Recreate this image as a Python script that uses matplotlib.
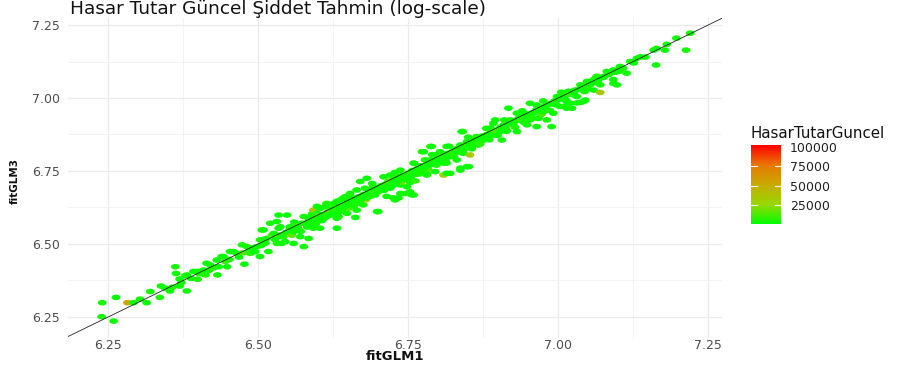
import matplotlib
matplotlib.use("Agg")
import matplotlib.pyplot as plt
import numpy as np
from matplotlib.path import Path
from matplotlib.colors import LinearSegmentedColormap, Normalize
from matplotlib.cm import ScalarMappable
from matplotlib.ticker import MultipleLocator

plt.rcParams['font.family'] = ['DejaVu Sans']

# (fitGLM1, fitGLM3, HasarTutarGuncel) rows, low end of the range
rows_low = [
    (6.240, 6.299, 3200), (6.263, 6.317, 2100), (6.239, 6.251, 4500), (6.259, 6.236, 1800),
    (6.282, 6.299, 52000), (6.292, 6.299, 2600), (6.303, 6.311, 3900), (6.314, 6.299, 1500),
    (6.320, 6.337, 2800), (6.336, 6.317, 5200), (6.338, 6.356, 2300), (6.345, 6.348, 3300),
    (6.353, 6.339, 1900), (6.357, 6.352, 6100), (6.369, 6.356, 2700), (6.372, 6.368, 4100),
    (6.381, 6.339, 2200), (6.362, 6.422, 3600), (6.363, 6.399, 1700), (6.369, 6.380, 2900),
    (6.378, 6.391, 8400), (6.381, 6.394, 2400), (6.388, 6.382, 3100), (6.392, 6.406, 1600),
    (6.399, 6.379, 4800), (6.398, 6.406, 2500), (6.402, 6.398, 3400), (6.409, 6.411, 2000),
    (6.412, 6.394, 5600), (6.414, 6.434, 2300), (6.418, 6.410, 3800), (6.420, 6.428, 1900),
    (6.425, 6.418, 7200), (6.431, 6.445, 2600), (6.432, 6.394, 3000), (6.434, 6.422, 1800),
    (6.439, 6.457, 4400), (6.442, 6.457, 2100), (6.445, 6.440, 9800), (6.448, 6.422, 2700),
    (6.452, 6.447, 3500), (6.453, 6.474, 1500), (6.459, 6.474, 2800), (6.464, 6.468, 4200),
    (6.468, 6.455, 2400), (6.473, 6.497, 3100), (6.475, 6.470, 12500), (6.477, 6.431, 2000),
    (6.481, 6.491, 3700), (6.486, 6.480, 2200), (6.487, 6.468, 5400), (6.492, 6.487, 2900),
    (6.495, 6.474, 1700), (6.498, 6.491, 3300), (6.503, 6.457, 2500), (6.503, 6.514, 4600),
    (6.505, 6.495, 2100), (6.506, 6.548, 3800), (6.509, 6.514, 6800), (6.509, 6.548, 2400),
    (6.512, 6.503, 3000), (6.514, 6.519, 1900), (6.517, 6.474, 2600), (6.520, 6.571, 4100),
    (6.523, 6.531, 15000), (6.526, 6.536, 2300), (6.528, 6.515, 3500), (6.531, 6.577, 2000),
    (6.531, 6.502, 4700), (6.534, 6.554, 2800), (6.534, 6.599, 1600), (6.536, 6.530, 7600),
    (6.537, 6.559, 2500), (6.539, 6.525, 3200), (6.539, 6.502, 2100), (6.542, 6.525, 5100),
    (6.545, 6.508, 2700), (6.547, 6.540, 3900), (6.548, 6.599, 2200),
]

# middle of the range
rows_mid = [
    (6.552, 6.548, 3400), (6.553, 6.559, 2600), (6.556, 6.530, 18000), (6.559, 6.502, 2300),
    (6.560, 6.552, 4100), (6.560, 6.575, 1900), (6.564, 6.548, 3000), (6.566, 6.560, 5800),
    (6.570, 6.525, 2400), (6.571, 6.543, 3600), (6.573, 6.571, 2100), (6.576, 6.594, 4400),
    (6.576, 6.491, 2700), (6.578, 6.570, 9200), (6.581, 6.571, 2200), (6.584, 6.519, 3300),
    (6.585, 6.582, 1800), (6.587, 6.594, 2900), (6.587, 6.565, 4900), (6.589, 6.562, 2500),
    (6.590, 6.604, 3700), (6.592, 6.616, 40000), (6.592, 6.554, 2000), (6.594, 6.585, 6400),
    (6.598, 6.605, 2800), (6.598, 6.577, 3500), (6.598, 6.629, 2300), (6.600, 6.596, 11000),
    (6.603, 6.622, 2600), (6.603, 6.554, 3100), (6.606, 6.580, 1900), (6.608, 6.601, 4300),
    (6.612, 6.628, 2400), (6.614, 6.594, 3800), (6.614, 6.634, 2100), (6.614, 6.639, 5300),
    (6.617, 6.611, 2700), (6.619, 6.598, 3200), (6.620, 6.616, 24000), (6.622, 6.619, 2500),
    (6.626, 6.611, 3900), (6.626, 6.639, 2200), (6.630, 6.622, 6700), (6.631, 6.588, 2900),
    (6.631, 6.554, 1800), (6.631, 6.646, 3400), (6.633, 6.607, 2300), (6.634, 6.594, 4500),
    (6.637, 6.616, 2000), (6.637, 6.651, 3000), (6.640, 6.633, 8100), (6.642, 6.622, 2600),
    (6.642, 6.658, 3700), (6.645, 6.641, 2100), (6.645, 6.662, 4800), (6.648, 6.605, 2400),
    (6.648, 6.658, 3300), (6.650, 6.622, 13500), (6.653, 6.673, 2700), (6.653, 6.663, 3600),
    (6.655, 6.648, 2200), (6.659, 6.629, 5000), (6.660, 6.657, 2900), (6.662, 6.591, 1700),
    (6.664, 6.616, 3100), (6.664, 6.685, 2500), (6.666, 6.640, 7300), (6.668, 6.662, 2300),
    (6.670, 6.714, 3800), (6.670, 6.646, 2000), (6.675, 6.634, 4200), (6.676, 6.670, 2600),
    (6.678, 6.691, 3400), (6.680, 6.652, 30000), (6.681, 6.725, 2100), (6.681, 6.658, 3900),
    (6.685, 6.680, 2800), (6.690, 6.683, 5500), (6.690, 6.707, 2400), (6.692, 6.696, 3200),
    (6.695, 6.668, 1900), (6.697, 6.693, 4600), (6.698, 6.611, 2700), (6.700, 6.679, 3500),
    (6.700, 6.611, 2200), (6.705, 6.700, 9600), (6.709, 6.730, 2500), (6.709, 6.696, 3700),
    (6.710, 6.684, 2000), (6.712, 6.705, 4400), (6.714, 6.663, 2900), (6.717, 6.714, 3100),
    (6.718, 6.716, 16500), (6.720, 6.736, 2300), (6.720, 6.691, 3800), (6.724, 6.700, 2600),
    (6.725, 6.658, 4100), (6.726, 6.719, 2100), (6.728, 6.651, 3300), (6.728, 6.745, 2700),
    (6.731, 6.730, 5900), (6.731, 6.707, 2400), (6.734, 6.728, 3600), (6.734, 6.658, 2000),
    (6.737, 6.753, 4300), (6.737, 6.702, 2800), (6.737, 6.673, 3200), (6.739, 6.713, 21000),
    (6.741, 6.736, 2500), (6.745, 6.673, 3900), (6.748, 6.696, 2200), (6.750, 6.742, 6200),
    (6.753, 6.711, 2600), (6.753, 6.679, 3400), (6.754, 6.728, 2100), (6.756, 6.668, 4700),
    (6.757, 6.752, 2900), (6.759, 6.777, 3100), (6.759, 6.668, 2400), (6.760, 6.776, 3700),
    (6.762, 6.716, 8800), (6.765, 6.758, 2300), (6.767, 6.748, 3500), (6.768, 6.740, 2700),
    (6.770, 6.748, 4000), (6.772, 6.768, 2000), (6.773, 6.816, 3300), (6.776, 6.816, 2600),
    (6.778, 6.788, 4500), (6.780, 6.772, 2200), (6.781, 6.736, 3800), (6.781, 6.742, 2500),
    (6.783, 6.757, 12000), (6.786, 6.781, 2800), (6.787, 6.834, 3200), (6.787, 6.788, 2100),
    (6.789, 6.834, 4100), (6.790, 6.806, 2400), (6.794, 6.787, 3600), (6.795, 6.748, 2900),
    (6.795, 6.805, 2300), (6.797, 6.770, 5200), (6.800, 6.796, 2700), (6.803, 6.816, 3400),
    (6.803, 6.788, 2000), (6.807, 6.800, 6900), (6.809, 6.736, 28000), (6.809, 6.777, 2600),
    (6.812, 6.785, 3900), (6.814, 6.834, 2200), (6.814, 6.777, 3000), (6.814, 6.742, 2500),
    (6.815, 6.810, 4400), (6.818, 6.835, 2100), (6.820, 6.805, 3500), (6.820, 6.742, 2800),
    (6.822, 6.815, 10500), (6.826, 6.799, 2400), (6.826, 6.811, 3300), (6.828, 6.822, 2000),
    (6.830, 6.826, 4700), (6.831, 6.788, 2600), (6.836, 6.829, 3100), (6.837, 6.753, 2300),
    (6.837, 6.760, 3800), (6.837, 6.839, 2900), (6.839, 6.885, 2200), (6.841, 6.812, 5600),
    (6.841, 6.885, 3400), (6.842, 6.811, 2500), (6.845, 6.840, 3700), (6.848, 6.765, 2100),
    (6.848, 6.851, 4200),
]

# dense band just under the diagonal
rows_core = [
    (6.558, 6.541, 2600), (6.567, 6.551, 3100), (6.582, 6.558, 2200), (6.596, 6.569, 4000),
    (6.604, 6.590, 2500), (6.611, 6.589, 3300), (6.624, 6.603, 2100), (6.628, 6.630, 2800),
    (6.639, 6.612, 3600), (6.647, 6.630, 2300), (6.657, 6.637, 4100), (6.663, 6.650, 2700),
    (6.672, 6.655, 3200), (6.683, 6.668, 2400), (6.688, 6.664, 5100), (6.699, 6.688, 2600),
    (6.707, 6.690, 3400), (6.715, 6.695, 2200), (6.722, 6.708, 3900), (6.733, 6.715, 2500),
    (6.743, 6.722, 3000), (6.751, 6.730, 2300), (6.763, 6.739, 4400), (6.771, 6.756, 2700),
    (6.777, 6.760, 3300), (6.785, 6.770, 2100), (6.793, 6.775, 3800), (6.802, 6.781, 2600),
    (6.810, 6.795, 3100), (6.817, 6.798, 2400), (6.825, 6.807, 4600), (6.834, 6.815, 2200),
    (6.843, 6.825, 3500), (6.858, 6.840, 2800), (6.872, 6.855, 3200), (6.884, 6.866, 2500),
    (6.898, 6.882, 3700), (6.912, 6.895, 2300), (6.925, 6.908, 4200), (6.939, 6.922, 2700),
    (6.952, 6.937, 3000), (6.966, 6.950, 2400), (6.980, 6.962, 3600), (6.996, 6.977, 2200),
    (7.012, 6.995, 3300), (7.027, 7.010, 2600), (7.044, 7.022, 3900),
]

# high end of the range
rows_high = [
    (6.850, 6.866, 2700), (6.851, 6.765, 3300), (6.852, 6.845, 2400), (6.853, 6.805, 35000),
    (6.856, 6.834, 2900), (6.856, 6.826, 3600), (6.860, 6.856, 2200), (6.864, 6.868, 4600),
    (6.866, 6.859, 2500), (6.867, 6.839, 3100), (6.870, 6.842, 7800), (6.874, 6.870, 2300),
    (6.876, 6.856, 3500), (6.880, 6.896, 2600), (6.881, 6.873, 4000), (6.882, 6.876, 2100),
    (6.885, 6.857, 3300), (6.887, 6.897, 2800), (6.889, 6.885, 5100), (6.892, 6.913, 2400),
    (6.892, 6.873, 3700), (6.895, 6.925, 2000), (6.896, 6.889, 14000), (6.899, 6.872, 2700),
    (6.903, 6.885, 3200), (6.904, 6.900, 2500), (6.906, 6.856, 4300), (6.909, 6.908, 2200),
    (6.910, 6.925, 3600), (6.911, 6.904, 2900), (6.914, 6.891, 6300), (6.914, 6.886, 2300),
    (6.917, 6.965, 3400), (6.919, 6.915, 2600), (6.920, 6.925, 3900), (6.926, 6.918, 2100),
    (6.928, 6.900, 4500), (6.931, 6.948, 2800), (6.931, 6.885, 3000), (6.934, 6.930, 2400),
    (6.937, 6.925, 9100), (6.940, 6.956, 2600), (6.941, 6.935, 3500), (6.942, 6.948, 2200),
    (6.943, 6.916, 4000), (6.948, 6.908, 2900), (6.949, 6.945, 3300), (6.953, 6.982, 2500),
    (6.953, 6.925, 3800), (6.956, 6.949, 2100), (6.957, 6.930, 5400), (6.959, 6.948, 2700),
    (6.964, 6.976, 3100), (6.964, 6.902, 2300), (6.964, 6.961, 4200), (6.967, 6.930, 2600),
    (6.971, 6.964, 3600), (6.972, 6.944, 11500), (6.975, 6.990, 2400), (6.976, 6.954, 3200),
    (6.979, 6.975, 2000), (6.981, 6.925, 3900), (6.986, 6.979, 2800), (6.986, 6.958, 4600),
    (6.989, 6.982, 2500), (6.989, 6.902, 3300), (6.992, 6.948, 2100), (6.994, 6.990, 6000),
    (6.998, 7.005, 2700), (7.001, 6.994, 3400), (7.003, 6.971, 2300), (7.005, 7.020, 3800),
    (7.006, 7.005, 2600), (7.009, 6.971, 4100), (7.010, 7.004, 2200), (7.014, 7.016, 3000),
    (7.014, 6.988, 2500), (7.014, 6.965, 3700), (7.017, 7.023, 2900), (7.018, 7.012, 8500),
    (7.020, 6.982, 2400), (7.023, 6.965, 3300), (7.026, 7.020, 2100), (7.028, 7.027, 4400),
    (7.031, 7.005, 2700), (7.031, 6.983, 3600), (7.034, 7.029, 2300), (7.037, 7.045, 3100),
    (7.037, 6.985, 2600), (7.041, 7.037, 4900), (7.042, 6.988, 2200), (7.045, 7.027, 3500),
    (7.045, 6.993, 2800), (7.048, 7.057, 2400), (7.048, 7.033, 3900), (7.050, 7.044, 2000),
    (7.053, 7.045, 4300), (7.058, 7.052, 2500), (7.059, 7.063, 3200), (7.059, 7.027, 2700),
    (7.064, 7.074, 3700), (7.066, 7.060, 2100), (7.070, 7.045, 2900), (7.070, 7.019, 33000),
    (7.075, 7.070, 3400), (7.076, 7.074, 2300), (7.081, 7.091, 2600), (7.084, 7.080, 4000),
    (7.092, 7.096, 2200), (7.092, 7.063, 3100), (7.092, 7.050, 2700), (7.095, 7.088, 3600),
    (7.098, 7.045, 2400), (7.101, 7.091, 3800), (7.103, 7.108, 2100), (7.108, 7.102, 4500),
    (7.114, 7.085, 2800), (7.120, 7.125, 3300), (7.126, 7.120, 2500), (7.131, 7.136, 3900),
    (7.137, 7.141, 2200), (7.145, 7.140, 2900), (7.159, 7.164, 3400), (7.163, 7.113, 2600),
    (7.164, 7.170, 3700), (7.178, 7.164, 2300), (7.181, 7.184, 3000), (7.197, 7.205, 2700),
    (7.213, 7.164, 3500), (7.220, 7.222, 2400),
]

axis_breaks = [6.25, 6.50, 6.75, 7.00, 7.25]
axis_labels = ["6.25", "6.50", "6.75", "7.00", "7.25"]
legend_breaks = [25000, 50000, 75000, 100000]
legend_labels = ["25000", "50000", "75000", "100000"]
colour_limits = (640, 102000)

rows = np.array(rows_low + rows_mid + rows_core + rows_high)
fitGLM1 = rows[:, 0]
fitGLM3 = rows[:, 1]
HasarTutarGuncel = rows[:, 2]

# green -> red gradient, interpolated through Lab like scale_colour_gradient
cmap = LinearSegmentedColormap.from_list(
    "green_red",
    [(0.00, "#00FF00"), (0.25, "#98D700"), (0.50, "#C9AB00"),
     (0.75, "#E87600"), (1.00, "#FF0000")])
norm = Normalize(*colour_limits)

W, H = 909, 368
fig = plt.figure(figsize=(W / 100, H / 100), dpi=100)
fig.patch.set_facecolor("white")

ax = fig.add_axes([68 / W, (H - 338) / H, (722 - 68) / W, (338 - 18) / H])
ax.set_facecolor("white")
for s in ax.spines.values():
    s.set_visible(False)
ax.set_xlim(6.183, 7.273)
ax.set_ylim(6.178, 7.274)
ax.set_xticks(axis_breaks)
ax.set_xticklabels(axis_labels)
ax.set_yticks(axis_breaks)
ax.set_yticklabels(axis_labels)
ax.xaxis.set_minor_locator(MultipleLocator(0.125))
ax.yaxis.set_minor_locator(MultipleLocator(0.125))
ax.grid(which="major", color="#EBEBEB", linewidth=0.9)
ax.grid(which="minor", color="#F1F1F1", linewidth=0.6)
ax.set_axisbelow(True)
ax.tick_params(which="both", length=0)
ax.tick_params(axis="x", pad=0.8, labelsize=9, labelcolor="#4D4D4D")
ax.tick_params(axis="y", pad=5.5, labelsize=9, labelcolor="#4D4D4D")

# horizontally stretched ellipse marker
circ = Path.unit_circle()
ellipse = Path(circ.vertices * np.array([1.0, 0.64]), circ.codes)

ax.scatter(fitGLM1, fitGLM3, c=HasarTutarGuncel, cmap=cmap, norm=norm,
           marker=ellipse, s=40, edgecolors="none", zorder=2)
ax.axline((6.25, 6.25), slope=1, color="#222222", linewidth=0.6, zorder=3)

ax.set_xlabel("fitGLM1", fontsize=9.5, fontweight="bold", color="#111111",
              va="center")
ax.xaxis.set_label_coords(0.5, (338 - 357) / 320)
ax.set_ylabel("fitGLM3", fontsize=7.5, fontweight="bold", color="#111111",
              va="center")
ax.yaxis.set_label_coords((15 - 68) / 654, 0.49)

fig.text(70 / W, 1 - 9 / H, "Hasar Tutar Güncel Şiddet Tahmin (log-scale)",
         ha="left", va="center", fontsize=13.3, color="#111111")

# colour bar legend
cax = fig.add_axes([751 / W, (H - 224) / H, 30 / W, 79 / H])
sm = ScalarMappable(norm=norm, cmap=cmap)
cb = fig.colorbar(sm, cax=cax, ticks=legend_breaks)
cb.set_ticklabels(legend_labels)
cb.outline.set_visible(False)
cax.tick_params(length=0, pad=6.5, labelsize=9, labelcolor="#222222")
for b in legend_breaks[:-1]:
    for x0, x1 in ((0.0, 0.2), (0.8, 1.0)):
        cax.plot([x0, x1], [b, b], transform=cax.get_yaxis_transform(),
                 color="white", linewidth=0.8)
fig.text(751 / W, 1 - 134 / H, "HasarTutarGuncel", ha="left", va="center",
         fontsize=10.8, color="#111111")

fig.savefig("out.png", dpi=100, facecolor="white")
